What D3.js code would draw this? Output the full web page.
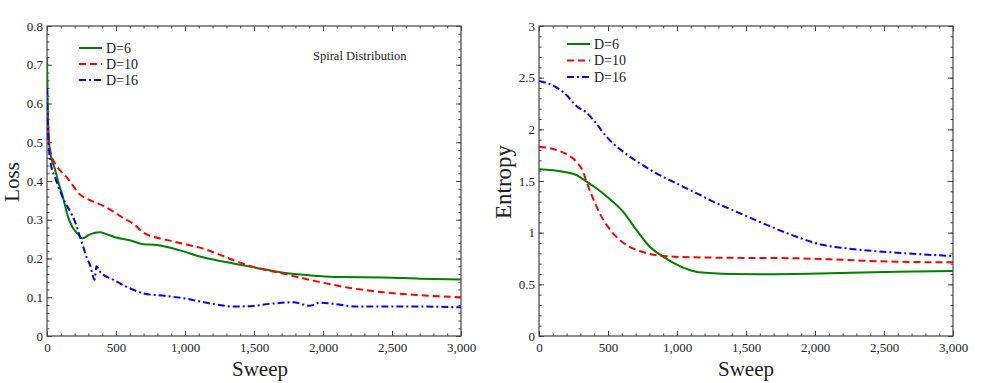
<!DOCTYPE html>
<html>
<head>
<meta charset="utf-8">
<script src="https://cdn.jsdelivr.net/npm/d3@7"></script>
<style>
  html, body { margin: 0; padding: 0; background: #fff; }
  svg { display: block; font-family: 'Liberation Serif', 'Times New Roman', serif; }
  .tick text { font-size: 13px; fill: #222; font-family: 'Liberation Serif', 'Times New Roman', serif; }
</style>
</head>
<body>
<svg id="chart" width="981" height="383"></svg>
<script>
const SWEEP_TICKS = [0, 500, 1000, 1500, 2000, 2500, 3000];
const LOSS_TICKS = [0, 0.1, 0.2, 0.3, 0.4, 0.5, 0.6, 0.7, 0.8];
const ENTROPY_TICKS = [0, 0.5, 1, 1.5, 2, 2.5, 3];
const SERIES_NAMES = ['D=6', 'D=10', 'D=16'];

// [sweep, loss]
const LOSS_D6 = [
  [0, 0.72], [5, 0.6], [12, 0.52], [25, 0.47], [58, 0.43], [80, 0.4], [118, 0.355],
  [150, 0.31], [186, 0.28], [220, 0.265], [256, 0.252], [300, 0.26], [340, 0.266],
  [384, 0.268], [430, 0.263], [493, 0.255], [601, 0.247], [698, 0.237], [795, 0.235],
  [915, 0.226], [1000, 0.217], [1109, 0.205], [1350, 0.187], [1471, 0.179], [1712, 0.163],
  [1954, 0.155], [2111, 0.152], [2437, 0.151], [2700, 0.148], [3000, 0.146]
];
const LOSS_D10 = [
  [0, 0.6], [8, 0.53], [22, 0.48], [58, 0.445], [100, 0.425], [142, 0.41], [239, 0.365],
  [336, 0.347], [400, 0.337], [481, 0.321], [550, 0.305], [625, 0.29], [698, 0.267],
  [867, 0.248], [1000, 0.237], [1109, 0.228], [1250, 0.21], [1350, 0.196], [1471, 0.181],
  [1712, 0.161], [1954, 0.141], [2196, 0.124], [2437, 0.113], [2679, 0.106], [3000, 0.1]
];
const LOSS_D16 = [
  [0, 0.64], [6, 0.54], [15, 0.48], [30, 0.44], [58, 0.41], [100, 0.37], [130, 0.345],
  [170, 0.32], [203, 0.295], [240, 0.255], [263, 0.23], [290, 0.2], [312, 0.183],
  [345, 0.145], [358, 0.18], [384, 0.166], [481, 0.145], [577, 0.127], [698, 0.11],
  [867, 0.103], [1000, 0.097], [1109, 0.089], [1250, 0.08], [1350, 0.076], [1471, 0.077],
  [1616, 0.083], [1785, 0.087], [1906, 0.078], [1978, 0.086], [2075, 0.083], [2244, 0.076],
  [2679, 0.076], [3000, 0.074]
];

// [sweep, entropy]
const ENTROPY_D6 = [
  [0, 1.613], [174, 1.59], [271, 1.558], [344, 1.494], [416, 1.43], [500, 1.34],
  [609, 1.203], [706, 1.026], [803, 0.864], [899, 0.768], [1020, 0.677], [1141, 0.622],
  [1262, 0.607], [1383, 0.6], [1624, 0.598], [2108, 0.607], [2592, 0.622], [3000, 0.629]
];
const ENTROPY_D10 = [
  [0, 1.832], [126, 1.8], [210, 1.752], [271, 1.687], [319, 1.59], [344, 1.494],
  [392, 1.33], [440, 1.187], [537, 0.994], [634, 0.881], [730, 0.823], [899, 0.774],
  [1141, 0.761], [1383, 0.757], [1866, 0.752], [2108, 0.742], [2350, 0.729],
  [2592, 0.719], [3000, 0.713]
];
const ENTROPY_D16 = [
  [0, 2.468], [126, 2.407], [199, 2.332], [271, 2.226], [344, 2.161], [404, 2.074],
  [489, 1.929], [609, 1.784], [730, 1.671], [851, 1.574], [1020, 1.461], [1214, 1.333],
  [1262, 1.3], [1383, 1.23], [1624, 1.09], [1866, 0.961], [2059, 0.88], [2229, 0.848],
  [2592, 0.806], [3000, 0.774]
];

const COLORS = ['#008000', '#ff0000', '#0000ff'];
const DASHES = [null, '7,4', '7,3,2,3'];

class Panel {
  constructor(svg, box, yDomain, yTicks, yMinorStep) {
    this.svg = svg;
    this.box = box;
    this.x = d3.scaleLinear().domain([0, 3000]).range([box.x0, box.x1]);
    this.y = d3.scaleLinear().domain(yDomain).range([box.y1, box.y0]);
    this.yTicks = yTicks;
    this.yMinor = d3.range(yDomain[0], yDomain[1] + 1e-9, yMinorStep);
    this.xMinor = d3.range(0, 3001, 100);
    this.g = svg.append('g');
  }

  axes() {
    const { x0, x1, y0, y1 } = this.box;
    // drop the axis line and the sans-serif font d3 puts on the group
    const clean = g => {
      g.select('.domain').remove();
      g.attr('font-family', null).attr('font-size', null);
    };

    // minor ticks on all four sides
    this.g.append('g').attr('transform', `translate(0,${y1})`)
      .call(d3.axisBottom(this.x).tickValues(this.xMinor).tickSize(-2.5).tickFormat(''))
      .call(clean);
    this.g.append('g').attr('transform', `translate(0,${y0})`)
      .call(d3.axisTop(this.x).tickValues(this.xMinor).tickSize(-2.5).tickFormat(''))
      .call(clean);
    this.g.append('g').attr('transform', `translate(${x0},0)`)
      .call(d3.axisLeft(this.y).tickValues(this.yMinor).tickSize(-2.5).tickFormat(''))
      .call(clean);
    this.g.append('g').attr('transform', `translate(${x1},0)`)
      .call(d3.axisRight(this.y).tickValues(this.yMinor).tickSize(-2.5).tickFormat(''))
      .call(clean);

    // major ticks, labelled on bottom and left
    this.g.append('g').attr('transform', `translate(0,${y1})`)
      .call(d3.axisBottom(this.x).tickValues(SWEEP_TICKS).tickSize(-5).tickPadding(7)
        .tickFormat(d3.format(',')))
      .call(clean);
    this.g.append('g').attr('transform', `translate(0,${y0})`)
      .call(d3.axisTop(this.x).tickValues(SWEEP_TICKS).tickSize(-5).tickFormat(''))
      .call(clean);
    this.g.append('g').attr('transform', `translate(${x0},0)`)
      .call(d3.axisLeft(this.y).tickValues(this.yTicks).tickSize(-5).tickPadding(4)
        .tickFormat(d => String(d)))
      .call(clean);
    this.g.append('g').attr('transform', `translate(${x1},0)`)
      .call(d3.axisRight(this.y).tickValues(this.yTicks).tickSize(-5).tickFormat(''))
      .call(clean);

    this.g.selectAll('.tick line').attr('stroke', '#444');

    this.g.append('rect')
      .attr('x', x0).attr('y', y0)
      .attr('width', x1 - x0).attr('height', y1 - y0)
      .attr('fill', 'none')
      .attr('stroke', '#444')
      .attr('stroke-width', 1.2);
  }

  lines(seriesList) {
    const { x0, x1, y0, y1 } = this.box;
    const id = `clip${x0}`;
    this.svg.append('clipPath').attr('id', id)
      .append('rect').attr('x', x0).attr('y', y0).attr('width', x1 - x0).attr('height', y1 - y0);

    const line = d3.line()
      .x(d => this.x(d[0]))
      .y(d => this.y(d[1]))
      .curve(d3.curveMonotoneX);

    this.g.append('g').attr('clip-path', `url(#${id})`)
      .selectAll('path')
      .data(seriesList)
      .enter()
      .append('path')
      .attr('d', d => line(d))
      .attr('fill', 'none')
      .attr('stroke', (d, i) => COLORS[i])
      .attr('stroke-width', 2)
      .attr('stroke-dasharray', (d, i) => DASHES[i]);
  }

  legend(lx, ly, step) {
    const items = this.g.append('g')
      .selectAll('g')
      .data(SERIES_NAMES)
      .enter()
      .append('g')
      .attr('transform', (d, i) => `translate(${lx},${ly + i * step})`);
    items.append('line')
      .attr('x1', 0).attr('x2', 23)
      .attr('stroke', (d, i) => COLORS[i])
      .attr('stroke-width', 2)
      .attr('stroke-dasharray', (d, i) => DASHES[i]);
    items.append('text')
      .attr('x', 27)
      .attr('dy', '0.35em')
      .style('font-size', '14px')
      .style('fill', '#222')
      .text(d => d);
  }

  xLabel(text, cx, baseline) {
    this.g.append('text')
      .attr('x', cx).attr('y', baseline)
      .attr('text-anchor', 'middle')
      .style('font-size', '21px')
      .style('fill', '#222')
      .text(text);
  }

  yLabel(text, bx, cy, size) {
    this.g.append('text')
      .attr('transform', `translate(${bx},${cy}) rotate(-90)`)
      .attr('text-anchor', 'middle')
      .style('font-size', `${size}px`)
      .style('fill', '#222')
      .text(text);
  }
}

const svg = d3.select('#chart');

const loss = new Panel(svg, { x0: 47, x1: 461, y0: 26, y1: 336 }, [0, 0.8], LOSS_TICKS, 0.02);
loss.axes();
loss.lines([LOSS_D6, LOSS_D10, LOSS_D16]);
loss.legend(79, 48, 16);
loss.xLabel('Sweep', 260, 376);
loss.yLabel('Loss', 19, 182, 21);
svg.append('text')
  .attr('x', 313).attr('y', 60)
  .style('font-size', '12.5px')
  .style('fill', '#222')
  .text('Spiral Distribution');

const entropy = new Panel(svg, { x0: 539, x1: 953, y0: 26, y1: 336 }, [0, 3], ENTROPY_TICKS, 0.1);
entropy.axes();
entropy.lines([ENTROPY_D6, ENTROPY_D10, ENTROPY_D16]);
entropy.legend(567, 44, 16.5);
entropy.xLabel('Sweep', 746, 376);
entropy.yLabel('Entropy', 511, 182, 23);
</script>
</body>
</html>
